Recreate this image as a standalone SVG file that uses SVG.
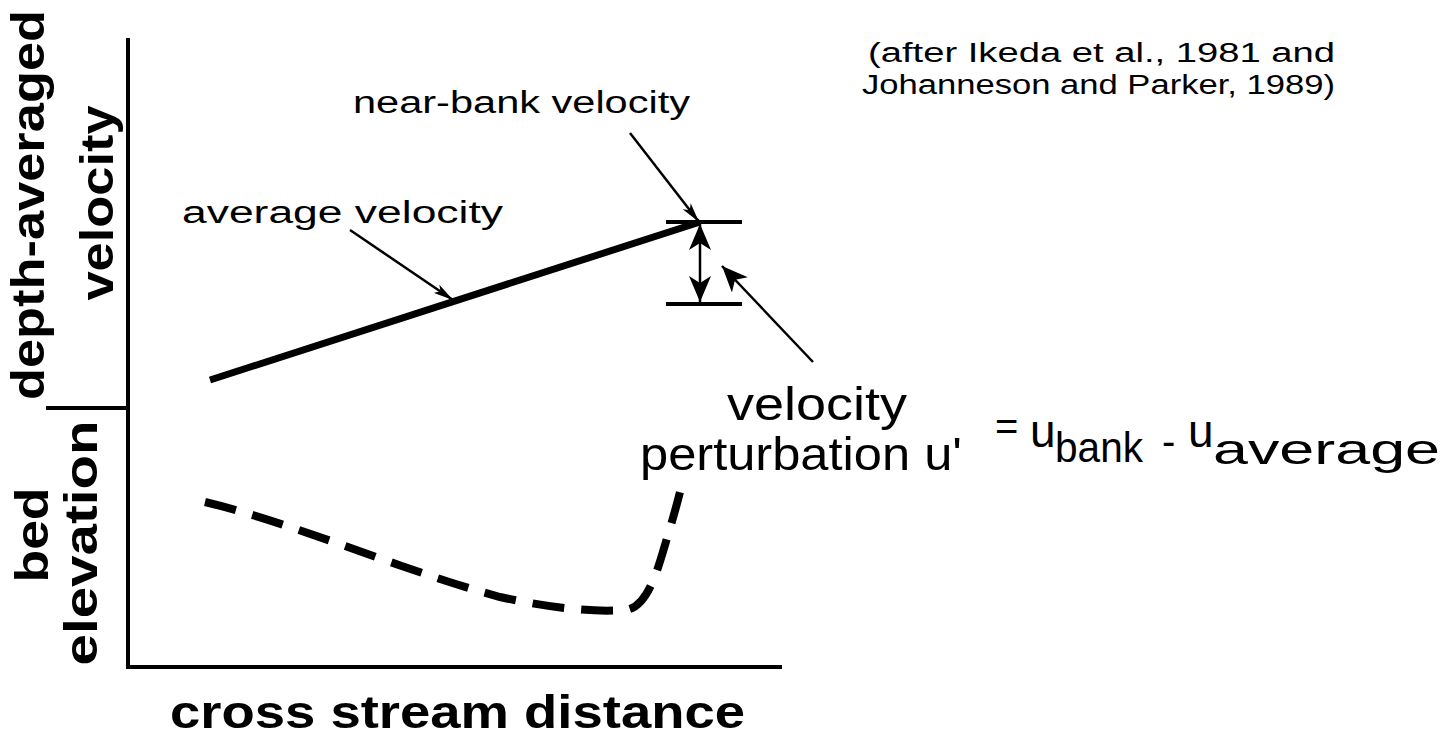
<svg xmlns="http://www.w3.org/2000/svg" width="1453" height="736" viewBox="0 0 1453 736">
<style>
.t{font-family:"Liberation Sans",Arial,sans-serif;fill:#000}
.b{font-weight:bold}
.ax{stroke:#000;stroke-width:4;fill:none;stroke-linecap:square}
.thin{stroke:#000;stroke-width:2.5;fill:none}
</style>
<defs>
<marker id="ah" viewBox="0 0 20 10" refX="20" refY="5" markerWidth="20" markerHeight="10" markerUnits="userSpaceOnUse" orient="auto">
<path d="M0,0 L20,5 L0,10 L5,5 z" fill="#000"/>
</marker>
<marker id="ah2" viewBox="0 0 26 22" refX="26" refY="11" markerWidth="26" markerHeight="22" markerUnits="userSpaceOnUse" orient="auto">
<path d="M0,0 L26,11 L0,22 L7,11 z" fill="#000"/>
</marker>
</defs>
<rect width="1453" height="736" fill="#fff"/>
<g id="axes">
<path class="ax" d="M128,40 L128,667 L780,667"/>
<path class="ax" d="M48,408 L128,408"/>
</g>
<g id="axis-labels">
<text class="t b" font-size="46" transform="translate(44,205) rotate(-90)" text-anchor="middle" textLength="390" lengthAdjust="spacingAndGlyphs">depth-averaged</text>
<text class="t b" font-size="46" transform="translate(113,203) rotate(-90)" text-anchor="middle" textLength="195" lengthAdjust="spacingAndGlyphs">velocity</text>
<text class="t b" font-size="46" transform="translate(48,535) rotate(-90)" text-anchor="middle" textLength="95" lengthAdjust="spacingAndGlyphs">bed</text>
<text class="t b" font-size="46" transform="translate(97,543) rotate(-90)" text-anchor="middle" textLength="245" lengthAdjust="spacingAndGlyphs">elevation</text>
<text class="t b" font-size="46" x="170" y="728" textLength="575" lengthAdjust="spacingAndGlyphs">cross stream distance</text>
</g>
<g id="citation">
<text class="t" font-size="27" x="868" y="62" textLength="467" lengthAdjust="spacingAndGlyphs">(after Ikeda et al., 1981 and</text>
<text class="t" font-size="27" x="862" y="94" textLength="473" lengthAdjust="spacingAndGlyphs">Johanneson and Parker, 1989)</text>
</g>
<g id="average-velocity-line">
<path d="M210,380 L700,222" stroke="#000" stroke-width="7" fill="none"/>
</g>
<g id="bed-elevation-curve">
<path d="M205,502 C300,525 400,570 500,597 C560,610 600,612 625,610 C650,608 660,560 668,535 C674,515 678,500 680,492" stroke="#000" stroke-width="8" fill="none" stroke-dasharray="32,17"/>
</g>
<g id="perturbation-bar">
<path class="ax" d="M668,222 L740,222 M668,304 L740,304"/>
</g>
<g id="connectors">
<path class="thin" d="M350,230 L453,300" marker-end="url(#ah)"/>
<path class="thin" d="M630,133 L699,222" marker-end="url(#ah)"/>
<path class="thin" d="M700,263 L700,224" marker-end="url(#ah2)"/>
<path class="thin" d="M700,263 L700,302" marker-end="url(#ah2)"/>
<path class="thin" d="M813,362 L722,266" marker-end="url(#ah2)"/>
</g>
<g id="labels">
<text class="t" font-size="31" x="353" y="113" textLength="337" lengthAdjust="spacingAndGlyphs">near-bank velocity</text>
<text class="t" font-size="31" x="182" y="223" textLength="321" lengthAdjust="spacingAndGlyphs">average velocity</text>
<text class="t" font-size="46" x="727" y="420" textLength="180" lengthAdjust="spacingAndGlyphs">velocity</text>
<text class="t" font-size="46" x="640" y="470" textLength="322" lengthAdjust="spacingAndGlyphs">perturbation u'</text>
<text class="t" font-size="40" x="995" y="440">=</text>
<text class="t" font-size="46" x="1030" y="447">u</text>
<text class="t" font-size="42" x="1055" y="462" textLength="88" lengthAdjust="spacingAndGlyphs">bank</text>
<text class="t" font-size="40" x="1162" y="455">-</text>
<text class="t" font-size="46" x="1188" y="447">u</text>
<text class="t" font-size="42" x="1213" y="464" textLength="227" lengthAdjust="spacingAndGlyphs">average</text>
</g>
</svg>
